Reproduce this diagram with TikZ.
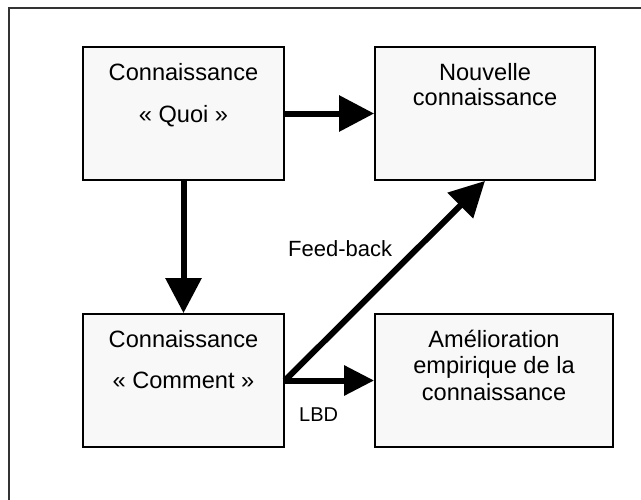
\documentclass[tikz,border=0pt]{standalone}
\usepackage{fontspec}
\setmainfont{Liberation Sans}
\usetikzlibrary{arrows.meta}
\definecolor{boxfill}{HTML}{F8F8F8}
\tikzset{
  box/.style={draw=black, line width=1.8pt, fill=boxfill, inner sep=0pt},
  big/.style={font=\fontsize{23.6}{28}\selectfont, inner sep=0pt, anchor=base},
  fblabel/.style={font=\fontsize{22}{26}\selectfont, inner sep=0pt, anchor=base west},
  lbdlabel/.style={font=\fontsize{20}{24}\selectfont, inner sep=0pt, anchor=base west},
  fat/.style={line width=6pt, -{Triangle[length=35pt, width=35pt]}},
  fatb/.style={line width=6pt, -{Triangle[length=30pt, width=29pt]}},
  frame/.style={line width=1.5pt, draw=black!80}
}
\begin{document}
\begin{tikzpicture}[x=1pt, y=-1pt]
\useasboundingbox (0,0) rectangle (641,499);
% outer frame (only left and top edges visible)
\coordinate (fbl) at (9,505);
\coordinate (ftl) at (9,8);
\coordinate (ftr) at (650,8);
\draw[frame] (fbl) -- (ftl) -- (ftr);

% boxes
\node[box, minimum width=201pt, minimum height=133pt] (quoi) at (183.5,113.5) {};
\node[box, minimum width=220pt, minimum height=133pt] (nouv) at (485,113.5) {};
\node[box, minimum width=201pt, minimum height=133pt] (comm) at (183.5,380.5) {};
\node[box, minimum width=238pt, minimum height=133pt] (amel) at (494,380.5) {};

% texts
\node[big] (q1) at (183.5,80) {Connaissance};
\node[big] (q2) at (183.5,122) {« Quoi »};
\node[big] (n1) at (485,80) {Nouvelle};
\node[big] (n2) at (485,105.5) {connaissance};
\node[big] (c1) at (183.5,347) {Connaissance};
\node[big] (c2) at (183.5,388) {« Comment »};
\node[big] (a1) at (494,347) {Amélioration};
\node[big] (a2) at (494,373.5) {empirique de la};
\node[big] (a3) at (494,400) {connaissance};

% connectors
\draw[fat] (quoi.east) -- (nouv.west);
\draw[fat] (quoi.south) -- (comm.north);
\draw[fat] (comm.east) -- (nouv.south);
\draw[fatb] (comm.east) -- (amel.west);

% labels
\node[fblabel] (fb) at (288,256) {Feed-back};
\node[lbdlabel] (lbd) at (299,421) {LBD};
\end{tikzpicture}
\end{document}
